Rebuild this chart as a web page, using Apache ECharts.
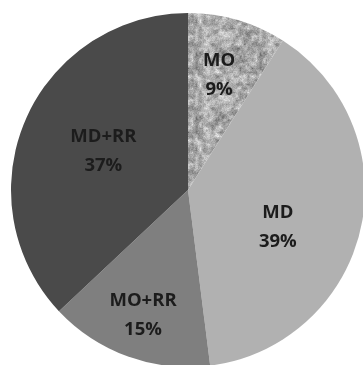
<!DOCTYPE html>
<html>
<head>
<meta charset="utf-8">
<script src="https://cdn.jsdelivr.net/npm/echarts@6/dist/echarts.min.js"></script>
<style>
  html, body { margin: 0; padding: 0; background: #ffffff; }
  #chart { width: 363px; height: 365px; }
</style>
</head>
<body>
<div id="chart"></div>
<script>
// Share of each group
const categories = ['MO', 'MD', 'MO+RR', 'MD+RR'];
const shares = [9, 39, 15, 37];

// Slice fills
const sliceColors = ['#b4b4b4', '#b1b1b1', '#7f7f7f', '#4a4a4a'];
// Label placement: fraction of outer radius, and a small turn (degrees) off the slice middle
const labelRadius = [0.67, 0.55, 0.75, 0.525];
const labelTurn = [-1, 10, 0, 1];

// Speckled granite-like fill for the MO slice (deterministic value noise)
function speckleCanvas() {
  const size = 64;
  const c = document.createElement('canvas');
  c.width = size; c.height = size;
  const ctx = c.getContext('2d');
  const img = ctx.createImageData(size, size);
  function hash(x, y) {
    x = ((x % size) + size) % size; y = ((y % size) + size) % size;
    const s = Math.sin(x * 127.1 + y * 311.7) * 43758.5453;
    return s - Math.floor(s);
  }
  function smooth(x, y, cell) {
    const gx = Math.floor(x / cell), gy = Math.floor(y / cell);
    const fx = x / cell - gx, fy = y / cell - gy;
    const n = size / cell;
    const h = (i, j) => hash(((gx + i) % n) * 7 + 3, ((gy + j) % n) * 13 + 5);
    const top = h(0, 0) * (1 - fx) + h(1, 0) * fx;
    const bot = h(0, 1) * (1 - fx) + h(1, 1) * fx;
    return top * (1 - fy) + bot * fy;
  }
  for (let y = 0; y < size; y++) {
    for (let x = 0; x < size; x++) {
      const v = 0.55 * smooth(x, y, 4) + 0.25 * smooth(x, y, 2) + 0.2 * hash(x, y);
      let g = 95 + v * 150;
      const k = Math.max(0, Math.min(255, Math.round(g)));
      const i = (y * size + x) * 4;
      img.data[i] = k; img.data[i + 1] = k; img.data[i + 2] = k; img.data[i + 3] = 255;
    }
  }
  ctx.putImageData(img, 0, 0);
  return c;
}

const chart = echarts.init(document.getElementById('chart'), null, { renderer: 'canvas' });

const cx = 188, cy = 190, R = 177;

const data = categories.map((name, i) => ({
  name: name,
  value: shares[i],
  itemStyle: i === 0
    ? { color: { image: speckleCanvas(), repeat: 'repeat' } }
    : { color: sliceColors[i] }
}));

chart.setOption({
  animation: false,
  series: [{
    type: 'pie',
    center: [cx, cy],
    radius: [0, R],
    startAngle: 90,
    clockwise: true,
    data: data,
    itemStyle: { borderWidth: 0 },
    label: {
      show: true,
      position: 'inside',
      formatter: '{b}\n{d}%',
      fontFamily: 'Open Sans',
      fontWeight: 'bold',
      fontSize: 18.5,
      lineHeight: 29,
      color: '#1c1c1c'
    },
    labelLine: { show: false },
    labelLayout: function (params) {
      const i = params.dataIndex;
      const r = params.labelRect;
      const lx = r.x + r.width / 2, ly = r.y + r.height / 2;
      const dx = lx - cx, dy = ly - cy;
      const ang = Math.atan2(dy, dx) + labelTurn[i] * Math.PI / 180;
      const dist = labelRadius[i] * R;
      return { dx: cx + dist * Math.cos(ang) - lx, dy: cy + dist * Math.sin(ang) - ly };
    }
  }]
});
</script>
</body>
</html>
